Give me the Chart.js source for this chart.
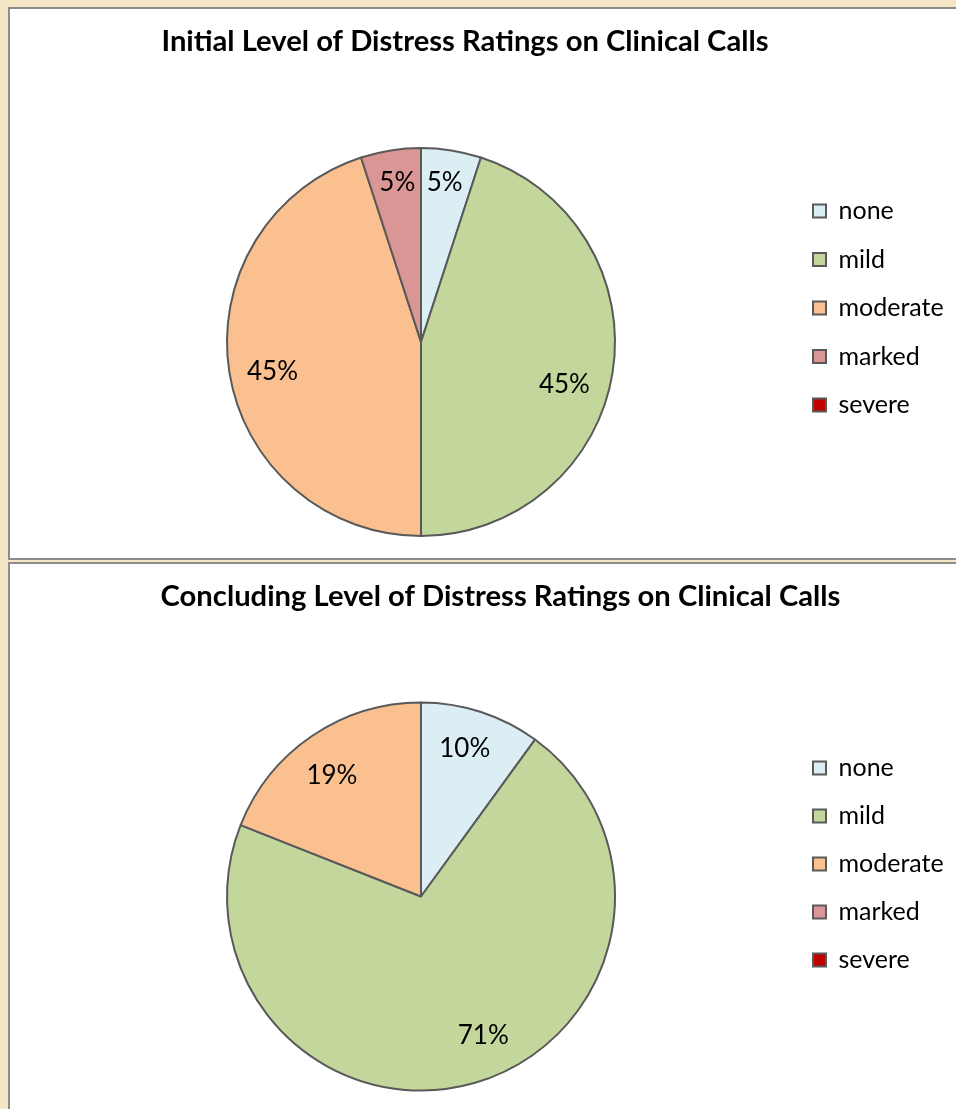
<!DOCTYPE html>
<html>
<head>
<meta charset="utf-8">
<title>Distress Ratings on Clinical Calls</title>
<script src="https://cdn.jsdelivr.net/npm/chart.js@4/dist/chart.umd.min.js"></script>
<style>
  html, body { margin: 0; padding: 0; }
  body {
    width: 956px; height: 1109px; overflow: hidden; position: relative;
    background: #F5E7C6;
  }
  .panel {
    position: absolute; left: 8px; width: 1010px;
    box-sizing: border-box; border: 2px solid #8C8C8C; border-right: none;
    background: #FFFFFF; overflow: hidden;
  }
  #panel1 { top: 7px; height: 553px; }
  #panel2 { top: 562px; height: 600px; }
  .panel canvas { position: absolute; left: 0; top: 0; }
</style>
</head>
<body>
<div class="panel" id="panel1"><canvas id="initialChart" width="1000" height="549"></canvas></div>
<div class="panel" id="panel2"><canvas id="concludingChart" width="1000" height="545"></canvas></div>
<script>
// Distress rating categories and the share of calls (%) in each
const categories = ['none', 'mild', 'moderate', 'marked', 'severe'];
const initialShares = [5, 45, 45, 5, 0];
const concludingShares = [10, 71, 19, 0, 0];

const initialTitle = 'Initial Level of Distress Ratings on Clinical Calls';
const concludingTitle = 'Concluding Level of Distress Ratings on Clinical Calls';

const sliceColors = ['#DBEEF4', '#C3D69B', '#FAC090', '#D99694', '#C00000'];
const FONT = "Lato, 'Open Sans', 'DejaVu Sans', sans-serif";
const LEGEND_SIZE = 25;
const LEGEND_BOX = 13;
const CANVAS_W = 1000;
const PIE_CX = 411;        // horizontal centre of the pie inside the canvas
const LEGEND_X = 803;      // left edge of the legend swatches inside the canvas

// Bold heading drawn across the top of each chart
const headingPlugin = {
  id: 'heading',
  afterDraw(chart, args, opts) {
    const ctx = chart.ctx;
    ctx.save();
    ctx.font = 'bold ' + opts.size + 'px ' + FONT;
    ctx.fillStyle = '#000000';
    ctx.textAlign = 'center';
    ctx.textBaseline = 'alphabetic';
    ctx.fillText(opts.text, opts.x, opts.y);
    ctx.restore();
  }
};

// Percentage written inside each non-empty slice
const sliceLabelPlugin = {
  id: 'sliceLabels',
  afterDatasetsDraw(chart, args, opts) {
    const ctx = chart.ctx;
    const values = chart.data.datasets[0].data;
    const meta = chart.getDatasetMeta(0);
    ctx.save();
    ctx.font = opts.size + 'px ' + FONT;
    ctx.fillStyle = '#000000';
    ctx.textAlign = 'center';
    ctx.textBaseline = 'middle';
    meta.data.forEach((arc, i) => {
      if (!values[i]) return;
      const p = arc.getProps(['x', 'y', 'startAngle', 'endAngle', 'outerRadius'], true);
      const mid = (p.startAngle + p.endAngle) / 2;
      const r = p.outerRadius * opts.radius;
      const shift = (opts.nudge && opts.nudge[i]) || [0, 0];
      ctx.fillText(values[i] + '%', p.x + Math.cos(mid) * r + shift[0], p.y + Math.sin(mid) * r + shift[1]);
    });
    ctx.restore();
  }
};

// Width of the right-hand legend column: gap + swatch + spacing + widest label
function legendWidth(gap) {
  const ctx = document.createElement('canvas').getContext('2d');
  ctx.font = LEGEND_SIZE + 'px ' + FONT;
  const widest = Math.max(...categories.map(c => ctx.measureText(c).width));
  return Math.ceil(gap + LEGEND_BOX + LEGEND_SIZE / 2 + widest + 3);
}

function makePie(canvasId, values, title, layout) {
  const gap = layout.legendGap;
  const areaRight = LEGEND_X - gap;            // chart area ends where the legend starts
  const padLeft = 2 * PIE_CX - areaRight;      // keeps the pie centred at PIE_CX
  const legW = legendWidth(gap);
  const padRight = CANVAS_W - legW - areaRight;
  return new Chart(document.getElementById(canvasId), {
    type: 'pie',
    data: {
      labels: categories,
      datasets: [{
        data: values,
        backgroundColor: sliceColors,
        borderColor: '#595959',
        borderWidth: 2,
        hoverOffset: 0
      }]
    },
    options: {
      responsive: false,
      animation: false,
      events: [],
      layout: { padding: { left: padLeft, right: padRight, top: layout.top, bottom: layout.bottom } },
      plugins: {
        tooltip: { enabled: false },
        title: { display: false },
        legend: {
          position: 'right',
          align: 'start',
          maxWidth: legW,
          title: { display: true, text: '', font: { size: 10, lineHeight: 1 }, padding: { top: layout.legendTop, bottom: 0 } },
          labels: {
            boxWidth: LEGEND_BOX,
            boxHeight: LEGEND_BOX,
            padding: gap,
            color: '#000000',
            font: { family: FONT, size: LEGEND_SIZE }
          }
        },
        heading: { text: title, size: 29.2, x: layout.titleX, y: 42 },
        sliceLabels: { size: 26, radius: 0.78, nudge: layout.nudge }
      }
    },
    plugins: [headingPlugin, sliceLabelPlugin]
  });
}

makePie('initialChart', initialShares, initialTitle, {
  top: 138, bottom: 21,
  legendGap: 23.5,
  legendTop: 18,
  titleX: 455,
  nudge: [[0, -10], [-6, 19], [1, 6], [0, -10], [0, 0]]
});

makePie('concludingChart', concludingShares, concludingTitle, {
  top: 137.5, bottom: 17.5,
  legendGap: 23,
  legendTop: 21,
  titleX: 490.5,
  nudge: [[-3, -4], [20, -6], [-4, 4], [0, 0], [0, 0]]
});
</script>
</body>
</html>
